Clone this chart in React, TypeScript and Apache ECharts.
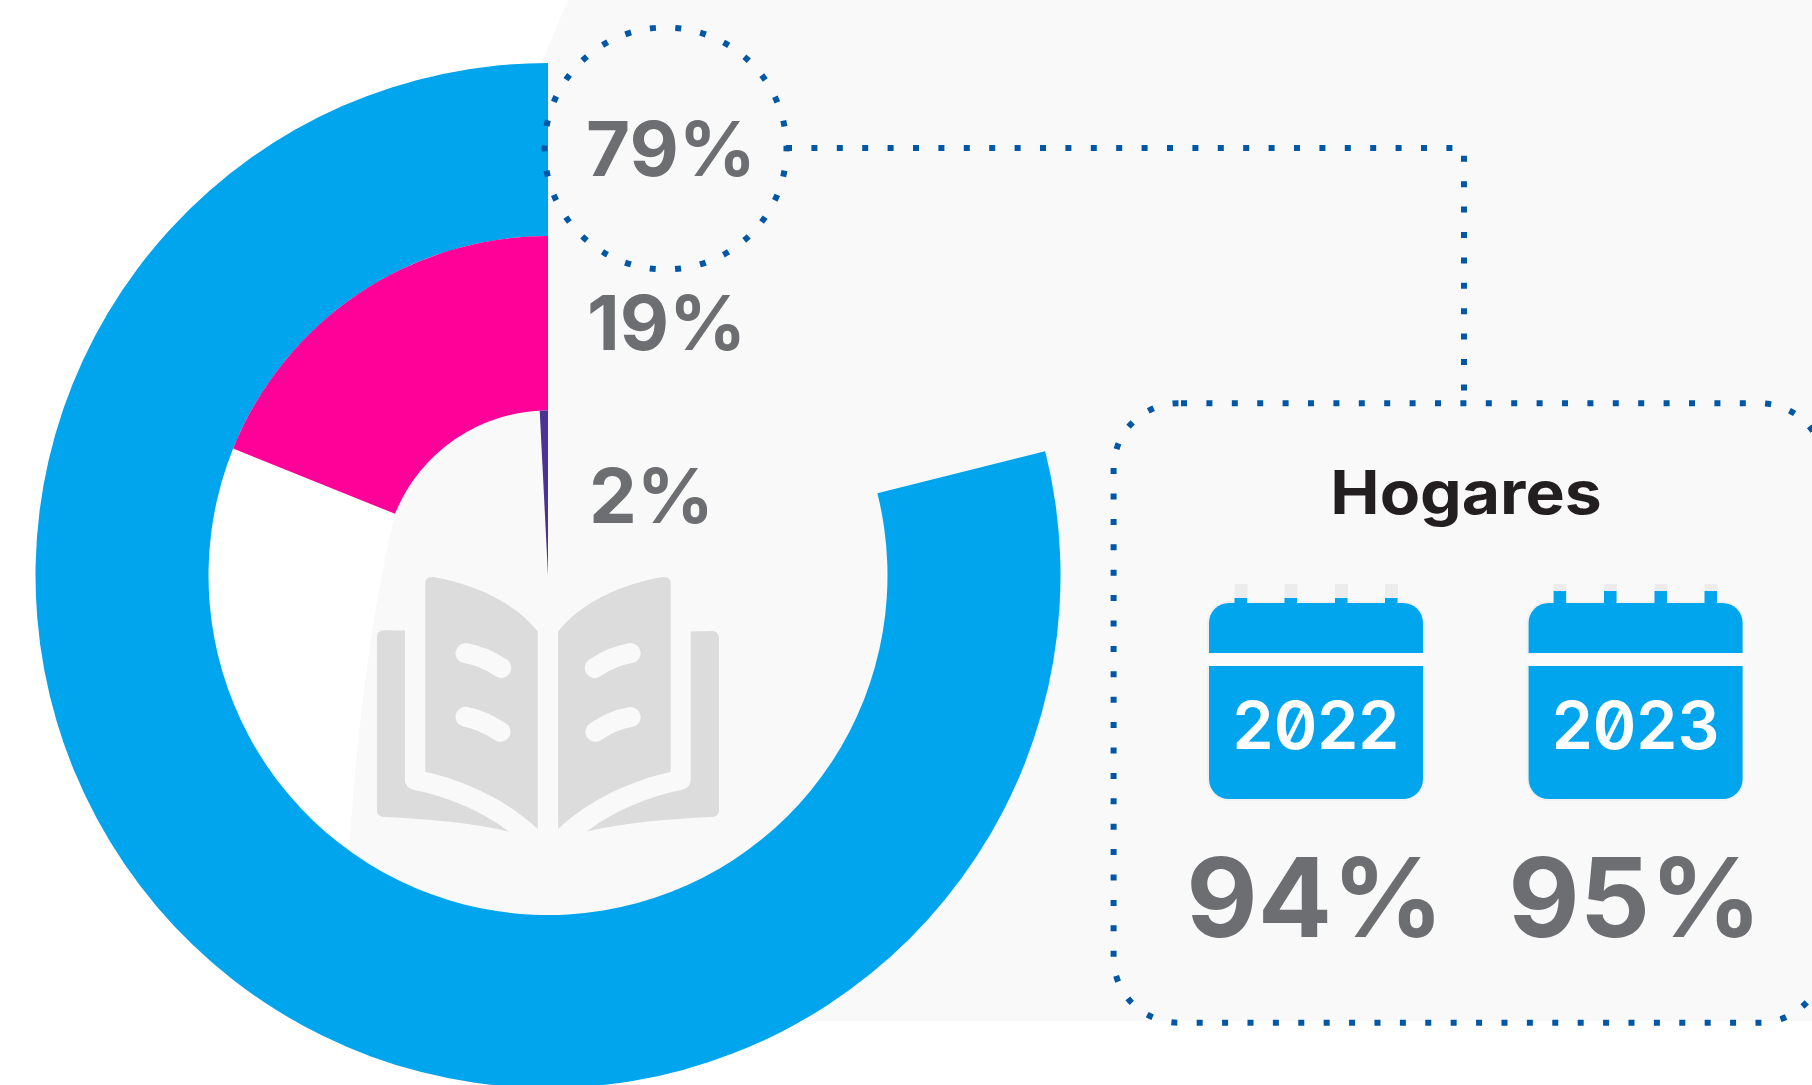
import React, { useEffect, useRef } from "react";
import * as echarts from "echarts";

// Share of each ring, drawn counter-clockwise from 12 o'clock
const ringNames = ["Azul", "Rosa", "Violeta"];
const blueRing = [78.9, 21.1];
const pinkRing = [18.9, 81.1];
const purpleRing = [0.8, 99.2];
const ringLabels = ["79%", "19%", "2%"];
const panelTitle = "Hogares";
const years = ["2022", "2023"];
const yearValues = ["94%", "95%"];

const BLUE = "#00a5ed";
const PINK = "#ff0099";
const PURPLE = "#4b3295";
const GREY_BG = "#f9f9f9";
const BOOK = "#dcdcdc";
const DOT = "#0057a6";
const TEXT_GREY = "#6d6e71";
const LABEL_FONT = "Inter";

echarts.graphic.registerShape(
  "bgShape",
  echarts.graphic.extendPath(
    "M568 0 L1812 0 L1812 1021 L345 1021 L349 850 C358 720 372 610 395 514 C430 370 490 180 568 0 Z",
    {}
  )
);
echarts.graphic.registerShape(
  "bookPages",
  echarts.graphic.extendPath(
    "M256 70 Q256 50 278 51 C400 70 530 130 594 215 L594 808 C500 720 380 665 256 636 Z " +
      "M993 70 Q993 50 971 51 C849 70 719 130 655 215 L655 808 C749 720 869 665 993 636 Z " +
      "M195 212 L132 211 Q111 211 111 232 L111 752 Q111 771 132 772 C270 778 400 790 508 816 C420 750 320 710 220 690 Q195 684 195 660 Z " +
      "M1053 215 L1117 213 Q1138 213 1138 234 L1138 752 Q1138 771 1117 772 C979 778 849 790 740 816 C828 750 928 710 1028 690 Q1053 684 1053 660 Z",
    {}
  )
);
echarts.graphic.registerShape(
  "bookLines",
  echarts.graphic.extendPath(
    "M377 280 Q430 288 484 324 M377 471 C420 478 450 495 482 516 M873 280 Q820 288 765 324 M873 472 C830 478 800 495 767 516",
    {}
  )
);

const ringSeries = (name: string, values: number[], radius: number[], color: string) => ({
  type: "pie",
  name,
  center: [548, 575.5],
  radius,
  startAngle: 90,
  clockwise: false,
  silent: true,
  label: { show: false },
  labelLine: { show: false },
  emphasis: { disabled: true },
  data: [
    { value: values[0], name, itemStyle: { color } },
    { value: values[1], name: name + " resto", itemStyle: { color: "rgba(0,0,0,0)" } },
  ],
});

const calendar = (left: number, ringXs: number[], ringTop: number) => {
  const w = 214;
  const els: any[] = [
    { type: "rect", z: 1, shape: { x: left - 2, y: 601, width: w + 4, height: 200, r: 22 }, style: { fill: "#f1f1f1" } },
    { type: "rect", z: 1, shape: { x: left - 2, y: 653, width: w + 4, height: 13 }, style: { fill: "#fbfbfb" } },
  ];
  ringXs.forEach((x) => {
    els.push({ type: "rect", z: 1, shape: { x, y: 584, width: 13, height: 20 }, style: { fill: "#ececec" } });
    els.push({ type: "rect", z: 3, shape: { x, y: ringTop, width: 12.5, height: 13 }, style: { fill: BLUE } });
  });
  els.push({ type: "rect", z: 3, shape: { x: left, y: 603, width: w, height: 50, r: [20, 20, 0, 0] }, style: { fill: BLUE } });
  els.push({ type: "rect", z: 3, shape: { x: left, y: 666, width: w, height: 133, r: [0, 0, 20, 20] }, style: { fill: BLUE } });
  return els;
};

const text = (
  t: string,
  x: number,
  y: number,
  size: number,
  fill: string,
  align: string,
  scaleX = 1,
  weight = 700
) => ({
  type: "text",
  z: 10,
  x,
  y,
  scaleX,
  style: {
    text: t,
    fill,
    font: `${weight} ${size}px "${LABEL_FONT}"`,
    align,
    verticalAlign: "middle",
  },
});

const dotted = { stroke: DOT, lineWidth: 6, lineDash: [6, 19.4], fill: "none" };

export default function App() {
  const ref = useRef<HTMLDivElement>(null);
  useEffect(() => {
    const chart = echarts.init(ref.current!, null, { renderer: "svg" });
    chart.setOption({
      animation: false,
      backgroundColor: "#ffffff",
      series: [
        ringSeries(ringNames[0], blueRing, [339.5, 512.5], BLUE),
        ringSeries(ringNames[1], pinkRing, [165, 339.5], PINK),
        ringSeries(ringNames[2], purpleRing, [0, 165], PURPLE),
      ],
      graphic: {
        elements: [
          { type: "bgShape", z: -1, style: { fill: GREY_BG } },
          { type: "bookPages", z: 1, x: 340, y: 560, scaleX: 1 / 3, scaleY: 1 / 3, style: { fill: BOOK } },
          {
            type: "bookLines",
            z: 2,
            x: 340,
            y: 560,
            scaleX: 1 / 3,
            scaleY: 1 / 3,
            style: { fill: "none", stroke: GREY_BG, lineWidth: 60, lineCap: "round" },
          },
          ...calendar(1209, [1234.5, 1284.5, 1335, 1385], 598),
          ...calendar(1528.6, [1553.6, 1604, 1654.5, 1704.5], 591),
          {
            type: "circle",
            z: 10,
            shape: { cx: 665.5, cy: 148.5, r: 121 },
            style: { ...dotted, lineDash: [6, 19.33], lineDashOffset: 3 },
          },
          {
            type: "polyline",
            z: 10,
            shape: { points: [[786, 148], [1464, 148], [1464, 403]] },
            style: dotted,
          },
          {
            type: "rect",
            z: 10,
            shape: { x: 1113.6, y: 403.3, width: 711, height: 619.4, r: 65 },
            style: { ...dotted, lineDashOffset: 23 },
          },
          text(ringLabels[0], 586, 148, 76, TEXT_GREY, "left"),
          text(ringLabels[1], 587, 322, 76, TEXT_GREY, "left"),
          text(ringLabels[2], 589, 495, 76, TEXT_GREY, "left"),
          text(panelTitle, 1466, 492, 60, "#231f20", "center", 1.1),
          text(years[0], 1316, 725, 66, "#ffffff", "center", 1, 600),
          text(years[1], 1635.6, 725, 66, "#ffffff", "center", 1, 600),
          text(yearValues[0], 1315, 897, 110, TEXT_GREY, "center"),
          text(yearValues[1], 1635, 897, 110, TEXT_GREY, "center"),
        ],
      },
    });
    return () => chart.dispose();
  }, []);
  return (
    <>
      <style>{'svg text { font-feature-settings: "zero" !important; font-variant-numeric: slashed-zero !important; }'}</style>
      <div
        ref={ref}
        style={{
          position: "fixed",
          left: 0,
          top: 0,
          width: 1812,
          height: 1085,
        }}
      />
    </>
  );
}
